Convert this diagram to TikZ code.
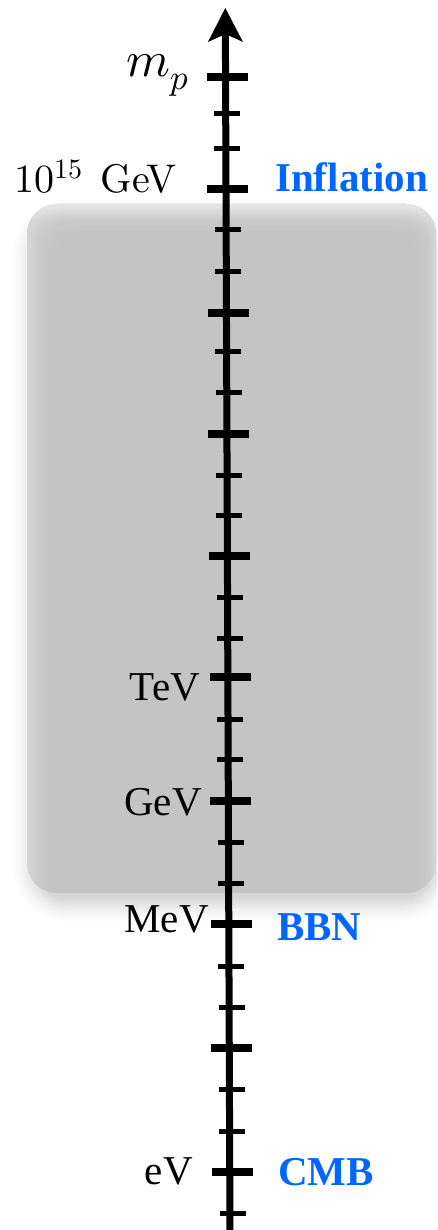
\documentclass[tikz,border=0pt]{standalone}
\usepackage{fontspec}
\usepackage{unicode-math}
\setmathfont{Latin Modern Math}
\newfontfamily\timesfont{Liberation Serif}
\newfontfamily\cmten{lmroman10-regular.otf}
\usetikzlibrary{arrows.meta}
\definecolor{erablue}{RGB}{0,102,255}
\definecolor{bandgray}{RGB}{196,196,196}

\begin{document}
\begin{tikzpicture}[x=1pt,y=-1pt,
  axisline/.style={line width=7pt,
    -{Stealth[length=34pt,width=35pt,inset=8pt,line width=0pt]}},
  majortick/.style={line width=7.5pt},
  minortick/.style={line width=5pt},
  cmlabel/.style={inner sep=0pt, font=\cmten\fontsize{40}{44}\selectfont},
  masslabel/.style={inner sep=0pt, font=\fontsize{50}{55}\selectfont},
  scalelabel/.style={inner sep=0pt, font=\timesfont\fontsize{41}{45}\selectfont},
  eralabel/.style={inner sep=0pt, text=erablue,
    font=\timesfont\bfseries\fontsize{41}{45}\selectfont},
]
\useasboundingbox (0,0) rectangle (437,1230);
\clip (0,0) rectangle (437,1230);

% soft drop shadow under the shaded band, cast downwards
\foreach \i [evaluate=\i as \e using 30*(1-sqrt(1-\i/20)),
             evaluate=\i as \r using 30+30*(1-sqrt(1-\i/20))] in {0,...,19}
  \fill[black, opacity=0.0095, rounded corners=\r pt]
    (36-\e,224-\e) rectangle (432+\e,899+\e);

% shaded band
\fill[bandgray, rounded corners=30pt] (27,204) rectangle (436,893);
% light inner rim: soft on the sides, strongest along the top
\begin{scope}
  \clip[rounded corners=30pt] (27,204) rectangle (436,893);
  \foreach \i [evaluate=\i as \d using 28*(1-sqrt(1-\i/20))] in {1,...,20}
    \fill[white, opacity=0.025, even odd rule]
      (0,150) rectangle (437,1000)
      [rounded corners=30pt] (27+\d,204+\d) rectangle (436-0.6*\d,1000);
  \foreach \i [evaluate=\i as \d using 26*(1-sqrt(1-\i/20))] in {1,...,20}
    \fill[white, opacity=0.034] (0,150) rectangle (437,204+\d);
\end{scope}

% energy axis
\coordinate (axisbottom) at (230,1240);
\coordinate (axistip) at (225.3,8);

% ticks: three per decade group, major every third
\foreach \y in {77,189,313,434,556,677,801,924,1048,1172}
  \draw[majortick] ({227+(\y-77)*0.005-20.5},\y) -- ({227+(\y-77)*0.005+20.5},\y);
\foreach \y in {114,149,230,272,351,392,475,515,597,638,719,759,842,883,966,1007,1089,1131,1213}
  \draw[minortick] ({227+(\y-77)*0.005-13},\y) -- ({227+(\y-77)*0.005+13},\y);

\draw[axisline] (axisbottom) -- (axistip);

% scale labels
\node[masslabel, anchor=base east] (mp) at (189,77) {$m_p$};
\node[cmlabel, anchor=base east] (gut) at (177,193) {$10^{15}$\hspace{0.45em}GeV};
\node[scalelabel, anchor=base east] (tev) at (200,700) {TeV};
\node[scalelabel, anchor=base east] (gev) at (202,815) {GeV};
\node[scalelabel, anchor=base east] (mev) at (209,932) {MeV};
\node[scalelabel, anchor=base east] (ev) at (193,1184) {eV};

% epochs
\node[eralabel, anchor=base west] (inflation) at (275,192) {Inflation};
\node[eralabel, anchor=base west] (bbn) at (277,940) {BBN};
\node[eralabel, anchor=base west] (cmb) at (278,1185) {CMB};
\end{tikzpicture}
\end{document}
